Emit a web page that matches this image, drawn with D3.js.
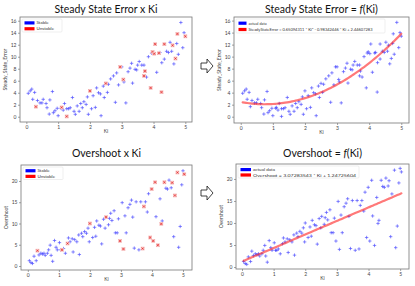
<!DOCTYPE html>
<html>
<head>
<meta charset="utf-8">
<script src="https://cdn.jsdelivr.net/npm/d3@7"></script>
<style>
  body { margin: 0; background: #fff; }
  text { font-family: "Lato", "DejaVu Sans", sans-serif; }
</style>
</head>
<body>
<div id="grafico"></div>
<script>
// ---- data ----
// steady state error vs Ki
var kiSseStable = [0.06,0.12,0.17,0.26,0.2,0.35,0.43,0.49,0.53,0.62,0.65,0.74,0.82,0.72,0.85,0.9,0.97,1.0,1.09,1.16,1.2,1.27,1.33,1.38,1.45,1.5,1.54,1.6,1.66,1.71,1.76,1.81,1.88,1.92,1.95,2.05,2.1,2.17,2.21,2.27,2.33,2.35,2.42,2.45,2.55,2.58,2.65,2.74,2.8,2.84,2.9,3.0,3.07,3.13,3.2,3.26,3.31,3.34,3.42,3.47,3.5,3.55,3.63,3.7,3.78,3.84,3.94,4.1,4.2,4.26,4.34,4.41,4.47,4.52,4.57,4.64,4.73,4.78,4.86,4.92,4.96]
var sseStable = [3.9,4.3,4.6,4.05,2.9,2.7,2.3,2.3,2.9,2.2,1.5,2.8,4.2,0.44,0.67,1.0,1.4,0.17,1.4,1.1,2.2,1.33,1.33,1.5,3.2,0.9,0.4,1.8,0.9,2.2,1.5,2.5,2.05,3.3,0.4,1.33,3.5,1.55,4.8,4.0,3.8,0.17,5.1,3.2,4.05,5.4,6.3,6.8,2.4,7.3,5.3,8.3,5.8,2.3,7.5,8.1,8.9,5.6,7.9,7.8,8.6,9.2,8.6,8.6,6.6,10.0,10.6,7.4,10.7,9.0,9.6,10.9,10.7,12.4,10.9,8.8,12.2,10.4,15.7,11.5,14.0]
var kiSseUnstable = [0.3,1.11,1.27,2.0,2.5,2.95,3.05,3.7,3.73,3.91,3.97,4.02,4.05,4.17,4.25,4.34,4.6,4.69,4.75,5.0]
var sseUnstable = [1.67,1.55,0.05,4.3,5.55,8.3,6.2,6.8,7.6,4.8,10.8,10.5,12.1,10.6,4.1,12.1,11.9,9.7,13.8,13.4]

// overshoot vs Ki
var kiOsStable = [0.05,0.1,0.15,0.2,0.27,0.36,0.42,0.47,0.52,0.56,0.63,0.67,0.72,0.75,0.8,0.86,0.91,0.95,1.02,1.06,1.15,1.21,1.31,1.36,1.43,1.46,1.51,1.58,1.64,1.66,1.73,1.77,1.83,1.89,1.94,1.98,2.09,2.15,2.19,2.22,2.29,2.34,2.38,2.44,2.49,2.6,2.63,2.67,2.71,2.78,2.82,2.88,2.92,3.04,3.13,3.17,3.23,3.29,3.34,3.38,3.43,3.49,3.58,3.64,3.79,3.85,3.89,4.13,4.26,4.33,4.45,4.5,4.55,4.62,4.7,4.86,4.91,4.96,5.0]
var osStable = [1.25,0.8,0.6,2.3,1.25,2.6,3.0,2.8,3.0,2.5,3.0,3.8,4.9,2.5,1.1,6.0,4.4,3.8,5.5,3.8,4.1,3.0,6.6,5.7,6.4,3.3,6.2,5.7,7.3,2.7,7.7,6.9,8.1,7.7,8.9,5.7,6.7,9.1,7.0,10.6,9.6,9.4,5.2,11.0,8.9,9.7,11.2,12.4,10.7,13.0,7.8,7.8,11.1,14.9,11.8,7.8,13.7,14.5,15.5,11.5,4.2,15.1,3.8,15.1,15.1,12.7,17.0,11.6,15.8,10.6,18.3,18.1,20.2,18.4,6.9,4.4,9.3,19.1,22.4]
var kiOsUnstable = [0.31,1.1,1.28,2.0,2.52,2.97,3.08,3.7,3.74,3.94,3.99,4.04,4.1,4.19,4.3,4.4,4.65,4.74,4.82,5.04]
var osUnstable = [3.6,3.8,5.3,10.0,11.5,5.9,4.0,4.1,14.0,6.7,18.1,5.9,19.7,4.9,9.9,19.7,19.6,16.6,22.0,21.6]

// fitted coefficients shown in the legends
var sseCoef = [0.65094311, -0.98342446, 2.44607283]
var osCoef = [3.07283543, 1.24725604]

var kiTicks = [0, 1, 2, 3, 4, 5]
var sseTicks = [0, 2, 4, 6, 8, 10, 12, 14, 16]
var osTicks = [0, 5, 10, 15, 20]

// ---- svg ----
var width = 415, height = 286
var svg = d3.select("#grafico").append("svg")
  .attr("width", width).attr("height", height)

var blue = "#2a2aff"
var plusPath = "M-1.7,0H1.7M0,-1.7V1.7"

function drawPanel(p) {
  var x = d3.scaleLinear().domain(p.xDom).range([p.left, p.right])
  var y = d3.scaleLinear().domain(p.yDom).range([p.bottom, p.top])
  var g = svg.append("g")

  // title
  var t = g.append("text")
    .attr("x", (p.left + p.right) / 2).attr("y", p.titleY)
    .attr("text-anchor", "middle").style("font-size", "10.5px").attr("fill", "#111")
  p.title.forEach(function(part) {
    t.append("tspan").text(part[0]).style("font-style", part[1] ? "italic" : "normal")
  })

  // axes
  var xa = g.append("g").attr("transform", "translate(0," + p.bottom + ")")
    .call(d3.axisBottom(x).tickValues(kiTicks).tickFormat(d3.format("d")).tickSize(2).tickPadding(1.5))
  var ya = g.append("g").attr("transform", "translate(" + p.left + ",0)")
    .call(d3.axisLeft(y).tickValues(p.yTicks).tickFormat(d3.format("d")).tickSize(2).tickPadding(1.5))
  ;[xa, ya].forEach(function(a) {
    a.select(".domain").remove()
    a.selectAll("line").attr("stroke", "#666").attr("stroke-width", 0.6)
    a.selectAll("text").style("font-size", "5px").attr("fill", "#444")
  })

  // frame
  g.append("rect")
    .attr("x", p.left).attr("y", p.top)
    .attr("width", p.right - p.left).attr("height", p.bottom - p.top)
    .attr("fill", "none").attr("stroke", "#777").attr("stroke-width", 0.8)

  // axis labels
  g.append("text").attr("x", (p.left + p.right) / 2).attr("y", p.bottom + 10.5)
    .attr("text-anchor", "middle").style("font-size", "5px").attr("fill", "#444").text("Ki")
  g.append("text")
    .attr("transform", "translate(" + (p.left - 13.5) + "," + ((p.top + p.bottom) / 2) + ") rotate(-90)")
    .attr("text-anchor", "middle").style("font-size", "5px").attr("fill", "#444").text(p.yLabel)

  var stable = p.kiS.map(function(k, i) { return [k, p.valS[i]] })
  var unstable = p.kiU.map(function(k, i) { return [k, p.valU[i]] })

  if (p.fit) {
    // every sample drawn as a blue "+", plus the red fitted curve
    var all = stable.concat(unstable)
    g.selectAll(".pt").data(all).enter().append("path")
      .attr("d", plusPath)
      .attr("transform", function(d) { return "translate(" + x(d[0]) + "," + y(d[1]) + ")" })
      .attr("stroke", blue).attr("stroke-width", 0.7).attr("opacity", 0.8)
    var ks = all.map(function(d) { return d[0] }).sort(d3.ascending)
    g.append("path")
      .datum(ks)
      .attr("d", d3.line().x(function(k) { return x(k) }).y(function(k) { return y(p.fit(k)) }))
      .attr("fill", "none").attr("stroke", "#ff2020").attr("stroke-width", 2.2)
      .attr("opacity", 0.6).attr("stroke-linecap", "round")
  } else {
    g.selectAll(".pt").data(stable).enter().append("path")
      .attr("d", plusPath)
      .attr("transform", function(d) { return "translate(" + x(d[0]) + "," + y(d[1]) + ")" })
      .attr("stroke", blue).attr("stroke-width", 0.7).attr("opacity", 0.8)
    var u = g.selectAll(".un").data(unstable).enter().append("g")
      .attr("transform", function(d) { return "translate(" + x(d[0]) + "," + y(d[1]) + ")" })
    u.append("rect").attr("x", -1.9).attr("y", -1.9).attr("width", 3.8).attr("height", 3.8)
      .attr("fill", "#f7c2c2")
    u.append("path").attr("d", "M-1.1,-1.1L1.1,1.1M-1.1,1.1L1.1,-1.1")
      .attr("stroke", "#e01010").attr("stroke-width", 0.6)
  }

  // legend
  var lg = p.legend
  g.append("rect")
    .attr("x", p.left + 2).attr("y", p.top + 2)
    .attr("width", lg.w).attr("height", lg.h)
    .attr("fill", "#fff").attr("fill-opacity", 0.85)
    .attr("stroke", "#ddd").attr("stroke-width", 0.5).attr("rx", 1)
  lg.items.forEach(function(it, i) {
    var yy = p.top + 2 + lg.h * (0.3 + 0.45 * i)
    g.append("rect").attr("x", p.left + 4.5).attr("y", yy - 1.6)
      .attr("width", lg.pw).attr("height", 3.2).attr("fill", it.color)
    var tx = g.append("text").attr("x", p.left + 6.5 + lg.pw).attr("y", yy + 1.5)
      .style("font-size", lg.fs + "px").attr("fill", "#333")
    if (it.len) tx.attr("textLength", it.len).attr("lengthAdjust", "spacingAndGlyphs")
    it.parts.forEach(function(part) {
      var ts = tx.append("tspan").text(part[0])
      if (part[1]) ts.attr("baseline-shift", "super").style("font-size", (lg.fs * 0.7) + "px")
    })
  })
}

// top left
drawPanel({
  left: 20, right: 192, top: 17, bottom: 122, titleY: 13,
  xDom: [-0.2, 5.21], yDom: [-0.88, 16.62], yTicks: sseTicks,
  title: [["Steady State Error x Ki"]], yLabel: "Steady_State_Error",
  kiS: kiSseStable, valS: sseStable, kiU: kiSseUnstable, valU: sseUnstable,
  legend: { w: 40, h: 13, pw: 10, fs: 4.5, items: [
    { color: "#0000ff", parts: [["Stable"]] },
    { color: "#ff0000", parts: [["Unstable"]] }] }
})

// top right
drawPanel({
  left: 234, right: 409, top: 17, bottom: 123, titleY: 13,
  xDom: [-0.21, 5.24], yDom: [-1.05, 16.6], yTicks: sseTicks,
  title: [["Steady State Error = "], ["f", true], ["(Ki)"]], yLabel: "Steady_State_Error",
  kiS: kiSseStable, valS: sseStable, kiU: kiSseUnstable, valU: sseUnstable,
  fit: function(k) { return sseCoef[0] * k * k + sseCoef[1] * k + sseCoef[2] },
  legend: { w: 149, h: 14, pw: 8, fs: 3.8, items: [
    { color: "#0000ff", parts: [["actual data"]] },
    { color: "#ff0000", len: 124, parts: [["SteadyStateError = " + sseCoef[0] + " * Ki"], ["2", true],
      [" - " + Math.abs(sseCoef[1]) + " * Ki + " + sseCoef[2]]] }] }
})

// bottom left
drawPanel({
  left: 21, right: 192, top: 165, bottom: 270, titleY: 157,
  xDom: [-0.22, 5.29], yDom: [-0.94, 23.76], yTicks: osTicks,
  title: [["Overshoot x Ki"]], yLabel: "Overshoot",
  kiS: kiOsStable, valS: osStable, kiU: kiOsUnstable, valU: osUnstable,
  legend: { w: 40, h: 12.5, pw: 10, fs: 4.5, items: [
    { color: "#0000ff", parts: [["Stable"]] },
    { color: "#ff0000", parts: [["Unstable"]] }] }
})

// bottom right
drawPanel({
  left: 236, right: 409, top: 164, bottom: 269, titleY: 157,
  xDom: [-0.19, 5.28], yDom: [-0.45, 23.4], yTicks: osTicks,
  title: [["Overshoot = "], ["f", true], ["(Ki)"]], yLabel: "Overshoot",
  kiS: kiOsStable, valS: osStable, kiU: kiOsUnstable, valU: osUnstable,
  fit: function(k) { return osCoef[0] * k + osCoef[1] },
  legend: { w: 121, h: 12, pw: 10.5, fs: 4.6, items: [
    { color: "#0000ff", parts: [["actual data"]] },
    { color: "#ff0000", len: 103, parts: [["Overshoot = " + osCoef[0] + " * Ki + " + osCoef[1]]] }] }
})

// hollow arrows between the panels
var arrowYs = [66, 193]
svg.selectAll(".arrow").data(arrowYs).enter().append("path")
  .attr("d", function(c) {
    return "M201," + (c - 3) + "H207V" + (c - 7) + "L213," + c + "L207," + (c + 7) + "V" + (c + 3) + "H201Z"
  })
  .attr("fill", "#fff").attr("stroke", "#111").attr("stroke-width", 0.8)
</script>
</body>
</html>
